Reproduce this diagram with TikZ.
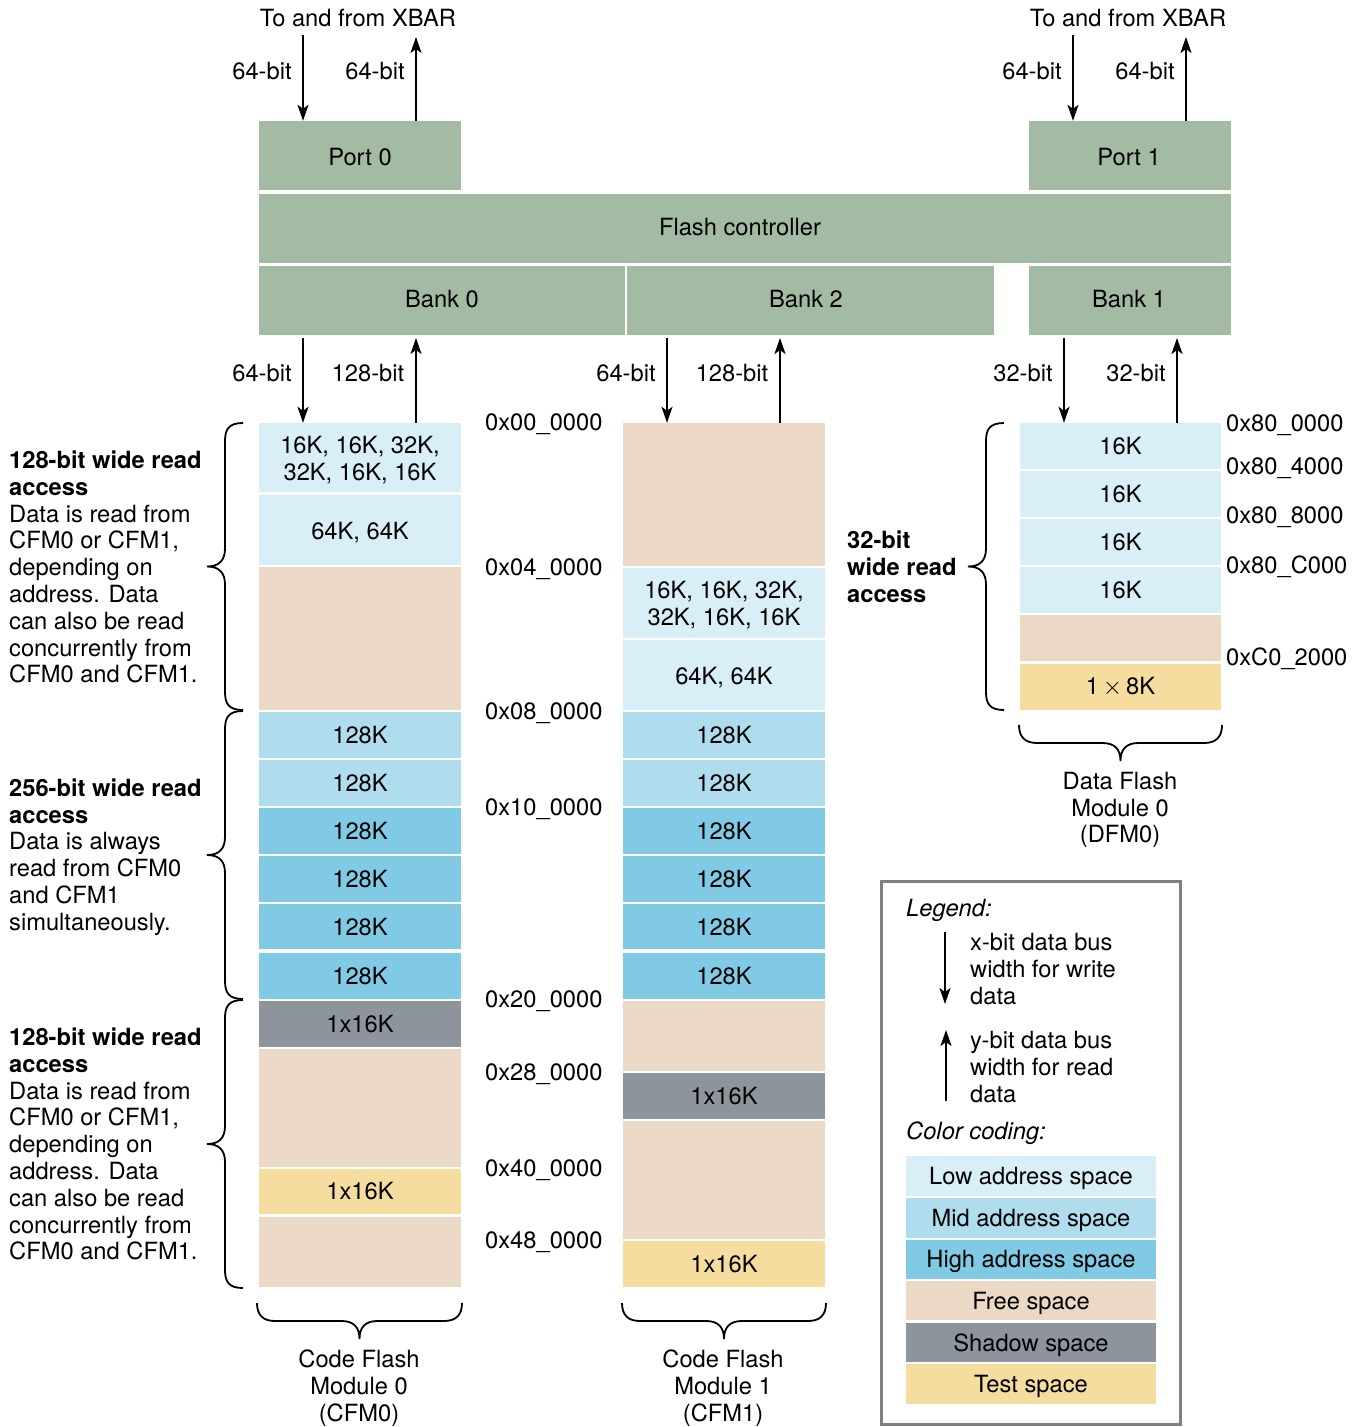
\documentclass[tikz,border=0pt]{standalone}
\usepackage{fontspec}
\setmainfont{TeX Gyre Heros}
\usetikzlibrary{arrows.meta}
\definecolor{ctrl}{HTML}{A3BBA3}
\definecolor{low}{HTML}{D9EFF7}
\definecolor{mid}{HTML}{AFDDEE}
\definecolor{high}{HTML}{80CAE5}
\definecolor{free}{HTML}{EBD9C5}
\definecolor{shadow}{HTML}{8E949B}
\definecolor{test}{HTML}{F5DDA0}
\definecolor{lgborder}{HTML}{808080}
\newcommand\mb[8]{%
  \pgfmathsetmacro\mbw{#4-#2}\pgfmathsetmacro\mbh{#5-#3}%
  \pgfmathsetmacro\mbx{(#2+#4)/2}\pgfmathsetmacro\mby{(#3+#5)/2}%
  \node[mbox,fill=#6,minimum width=\mbw pt,minimum height=\mbh pt] (#1) at (\mbx,\mby) {};
  \node[mbox,#8] (#1t) at (\mbx,\mby) {#7};}
% vertical brace, tip to the left: x of line, y1, y2
\newcommand\leftbr[3]{%
  \pgfmathsetmacro\bm{(#2+#3)/2}%
  \draw[brc] (#1+18,#2) .. controls (#1+4,#2) and (#1,#2+6) .. (#1,#2+18)
    -- (#1,\bm-18) .. controls (#1,\bm-6) and (#1-6,\bm) .. (#1-18,\bm)
    .. controls (#1-6,\bm) and (#1,\bm+6) .. (#1,\bm+18)
    -- (#1,#3-18) .. controls (#1,#3-6) and (#1+4,#3) .. (#1+18,#3);}
% horizontal brace, tip downwards: x1, x2, top y
\newcommand\botbr[3]{%
  \pgfmathsetmacro\bm{(#1+#2)/2}%
  \draw[brc] (#1,#3) .. controls (#1,#3+12) and (#1+6,#3+18) .. (#1+18,#3+18)
    -- (\bm-18,#3+18) .. controls (\bm-6,#3+18) and (\bm,#3+24) .. (\bm,#3+36)
    .. controls (\bm,#3+24) and (\bm+6,#3+18) .. (\bm+18,#3+18)
    -- (#2-18,#3+18) .. controls (#2-6,#3+18) and (#2,#3+12) .. (#2,#3);}
\begin{document}
\begin{tikzpicture}[x=1pt,y=-1pt,
  fnt/.style={font=\fontsize{23.7}{26.8}\selectfont},
  txt/.style={fnt,inner sep=0pt,align=center},
  ltxt/.style={fnt,inner sep=0pt,align=left,anchor=west},
  gbox/.style={fnt,fill=ctrl,inner sep=0pt,minimum height=69pt},
  mbox/.style={fnt,inner sep=0pt,align=center},
  dn/.style={yshift=-2.5pt},
  arr/.style={line width=2.2pt,-{Stealth[length=16pt,width=11pt,inset=4pt]}},
  brc/.style={line width=1.8pt}]
\useasboundingbox (0,0) rectangle (1364,1427);

% controller blocks
\node[gbox,minimum width=202pt] (port0) at (360,155.5) {};
\node[txt] (port0t) at (360,157) {Port 0};
\node[gbox,minimum width=202pt] (port1) at (1130,155.5) {};
\node[txt] (port1t) at (1129,157) {Port 1};
\node[gbox,minimum width=972pt] (fc) at (745,228.5) {};
\node[txt] (fct) at (740,227.5) {Flash controller};
\node[gbox,minimum width=366pt] (bank0) at (442,300.5) {};
\node[txt] (bank0t) at (442,299.5) {Bank 0};
\node[gbox,minimum width=367pt] (bank2) at (810.5,300.5) {};
\node[txt] (bank2t) at (806,299.5) {Bank 2};
\node[gbox,minimum width=202pt] (bank1) at (1130,300.5) {};
\node[txt] (bank1t) at (1129,299.5) {Bank 1};

% XBAR
\node[txt] (xbar0) at (358,18) {To and from XBAR};
\node[txt] (xbar1) at (1128,18) {To and from XBAR};
\coordinate (p0d) at (303,35);
\coordinate (p0u) at (416,37);
\coordinate (p1d) at (1073,35);
\coordinate (p1u) at (1186,37);
\draw[arr] (p0d) -- (p0d |- port0.north) ;
\draw[arr] (p0u |- port0.north) -- (p0u);
\draw[arr] (p1d) -- (p1d |- port1.north);
\draw[arr] (p1u |- port1.north) -- (p1u);
\node[txt] (l1) at (262,71) {64-bit};
\node[txt] (l2) at (375,71) {64-bit};
\node[txt] (l3) at (1032,71) {64-bit};
\node[txt] (l4) at (1145,71) {64-bit};

% CFM0
\mb{c0a}{259}{423}{461}{492.3}{low}{16K, 16K, 32K,\\32K, 16K, 16K}{dn}
\mb{c0b}{259}{495.3}{461}{565}{low}{64K, 64K}{dn}
\mb{c0c}{259}{567.3}{461}{709.7}{free}{}{}
\mb{c0d}{259}{712}{461}{757.7}{mid}{128K}{}
\mb{c0e}{259}{760}{461}{805.7}{mid}{128K}{}
\mb{c0f}{259}{808}{461}{853.7}{high}{128K}{}
\mb{c0g}{259}{856}{461}{901.7}{high}{128K}{}
\mb{c0h}{259}{904}{461}{949.3}{high}{128K}{}
\mb{c0i}{259}{952.7}{461}{998.7}{high}{128K}{}
\mb{c0j}{259}{1000.7}{461}{1046.7}{shadow}{1x16K}{}
\mb{c0k}{259}{1048.7}{461}{1166.7}{free}{}{}
\mb{c0l}{259}{1169}{461}{1214}{test}{1x16K}{}
\mb{c0m}{259}{1216.7}{461}{1287}{free}{}{}

% CFM1
\mb{c1a}{623}{423}{825}{565.7}{free}{}{}
\mb{c1b}{623}{567.7}{825}{637.7}{low}{16K, 16K, 32K,\\32K, 16K, 16K}{dn}
\mb{c1c}{623}{640}{825}{709.7}{low}{64K, 64K}{dn}
\mb{c1d}{623}{712}{825}{757.7}{mid}{128K}{}
\mb{c1e}{623}{760}{825}{805.7}{mid}{128K}{}
\mb{c1f}{623}{808}{825}{853.7}{high}{128K}{}
\mb{c1g}{623}{856}{825}{901.7}{high}{128K}{}
\mb{c1h}{623}{904}{825}{949.3}{high}{128K}{}
\mb{c1i}{623}{952.7}{825}{998.7}{high}{128K}{}
\mb{c1j}{623}{1001}{825}{1070.7}{free}{}{}
\mb{c1k}{623}{1073}{825}{1118.7}{shadow}{1x16K}{}
\mb{c1l}{623}{1121}{825}{1238.7}{free}{}{}
\mb{c1m}{623}{1241}{825}{1287}{test}{1x16K}{}

% DFM0
\mb{d0a}{1020}{423}{1221}{469}{low}{16K}{}
\mb{d0b}{1020}{471}{1221}{516.7}{low}{16K}{}
\mb{d0c}{1020}{519}{1221}{564.7}{low}{16K}{}
\mb{d0d}{1020}{567}{1221}{612.7}{low}{16K}{}
\mb{d0e}{1020}{615}{1221}{660.7}{free}{}{}
\mb{d0f}{1020}{664}{1221}{709.7}{test}{1\,$\times$\,8K}{}

% bank arrows
\coordinate (b0d) at (303,338);
\coordinate (b0u) at (416,338);
\coordinate (b2d) at (667,338);
\coordinate (b2u) at (780,338);
\coordinate (b1d) at (1064,338);
\coordinate (b1u) at (1177,338);
\draw[arr] (b0d) -- (b0d |- c0a.north);
\draw[arr] (b0u |- c0a.north) -- (b0u);
\draw[arr] (b2d) -- (b2d |- c1a.north);
\draw[arr] (b2u |- c1a.north) -- (b2u);
\draw[arr] (b1d) -- (b1d |- d0a.north);
\draw[arr] (b1u |- d0a.north) -- (b1u);
\node[txt] (l5) at (262,373) {64-bit};
\node[txt] (l6) at (368,373) {128-bit};
\node[txt] (l7) at (626,373) {64-bit};
\node[txt] (l8) at (732,373) {128-bit};
\node[txt] (l9) at (1023,373) {32-bit};
\node[txt] (l10) at (1136,373) {32-bit};

% address labels
\node[ltxt] (a1) at (485,424) {0x00\_0000};
\node[ltxt] (a2) at (485,569) {0x04\_0000};
\node[ltxt] (a3) at (485,713) {0x08\_0000};
\node[ltxt] (a4) at (485,809) {0x10\_0000};
\node[ltxt] (a5) at (485,1001) {0x20\_0000};
\node[ltxt] (a6) at (485,1074) {0x28\_0000};
\node[ltxt] (a7) at (485,1170) {0x40\_0000};
\node[ltxt] (a8) at (485,1242) {0x48\_0000};
\node[ltxt] (a9) at (1226,425) {0x80\_0000};
\node[ltxt] (a10) at (1226,468) {0x80\_4000};
\node[ltxt] (a11) at (1226,517) {0x80\_8000};
\node[ltxt] (a12) at (1226,567) {0x80\_C000};
\node[ltxt] (a13) at (1226,659) {0xC0\_2000};

% braces
\leftbr{225}{423}{710}
\leftbr{225}{711}{999}
\leftbr{225}{1000}{1288}
\leftbr{986}{423}{710}
\botbr{257}{462}{1303}
\botbr{622}{826}{1303}
\botbr{1019}{1222}{725}

% left descriptions
\node[ltxt] (t1) at (9,567) {\textbf{128-bit wide read}\\\textbf{access}\\Data is read from\\CFM0 or CFM1,\\depending on\\address. Data\\can also be read\\concurrently from\\CFM0 and CFM1.};
\node[ltxt] (t2) at (9,857) {\textbf{256-bit wide read}\\\textbf{access}\\Data is always\\read from CFM0\\and CFM1\\simultaneously.};
\node[ltxt] (t3) at (9,1144) {\textbf{128-bit wide read}\\\textbf{access}\\Data is read from\\CFM0 or CFM1,\\depending on\\address. Data\\can also be read\\concurrently from\\CFM0 and CFM1.};
\node[ltxt] (t4) at (847,567) {\textbf{32-bit}\\\textbf{wide read}\\\textbf{access}};

% module names
\node[txt] (m0) at (359,1388) {Code Flash\\Module 0\\(CFM0)};
\node[txt] (m1) at (723,1388) {Code Flash\\Module 1\\(CFM1)};
\node[txt] (m2) at (1120,810) {Data Flash\\Module 0\\(DFM0)};

% legend
\draw[lgborder,line width=3pt] (881.5,881.5) rectangle (1180.5,1424.5);
\node[ltxt] (lg) at (906,910) {\itshape Legend:};
\coordinate (lgd) at (945,932);
\coordinate (lgu) at (946,1030);
\draw[arr] (lgd) -- (lgd |- 0,1004);
\draw[arr] (lgu |- 0,1101) -- (lgu);
\node[ltxt] (lgt1) at (970,969) {x-bit data bus\\width for write\\data};
\node[ltxt] (lgt2) at (970,1067) {y-bit data bus\\width for read\\data};
\node[ltxt] (cc) at (906,1133) {\itshape Color coding:};
\mb{s1}{906}{1156}{1156}{1196}{low}{Low address space}{dn}
\mb{s2}{906}{1198}{1156}{1238}{mid}{Mid address space}{dn}
\mb{s3}{906}{1240}{1156}{1278.5}{high}{High address space}{dn}
\mb{s4}{906}{1281}{1156}{1320}{free}{Free space}{dn}
\mb{s5}{906}{1323}{1156}{1362}{shadow}{Shadow space}{dn}
\mb{s6}{906}{1364}{1156}{1403.5}{test}{Test space}{dn}
\end{tikzpicture}
\end{document}
